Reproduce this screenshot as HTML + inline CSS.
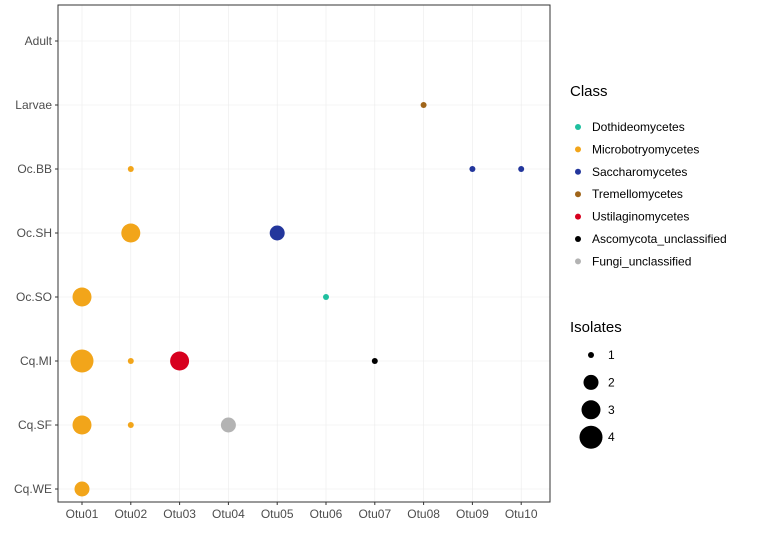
<!DOCTYPE html>
<html><head><meta charset="utf-8"><style>
body{margin:0;background:#fff;font-family:"Liberation Sans",sans-serif}
</style></head><body>
<svg width="763" height="549" xmlns="http://www.w3.org/2000/svg" font-family="Liberation Sans, sans-serif">
<rect width="763" height="549" fill="#fff"/>
<g id="grid"></g>
<g id="pts"></g>
<rect x="58" y="5" width="492" height="497" fill="none" stroke="#333" stroke-width="1"/>
<g id="axes" font-size="12" fill="#4d4d4d"></g>
<g id="legend"></g>
</svg>
<script>
const xCats=["Otu01","Otu02","Otu03","Otu04","Otu05","Otu06","Otu07","Otu08","Otu09","Otu10"];
const yCats=["Adult","Larvae","Oc.BB","Oc.SH","Oc.SO","Cq.MI","Cq.SF","Cq.WE"];
const classes=["Dothideomycetes","Microbotryomycetes","Saccharomycetes","Tremellomycetes","Ustilaginomycetes","Ascomycota_unclassified","Fungi_unclassified"];
const classColors=["#1fbf9f","#f2a51a","#23369c","#a0651a","#d7001e","#000000","#b3b3b3"];
const ptX=["Otu01","Otu01","Otu01","Otu01","Otu02","Otu02","Otu02","Otu02","Otu03","Otu04","Otu05","Otu06","Otu07","Otu08","Otu09","Otu10"];
const ptY=["Oc.SO","Cq.MI","Cq.SF","Cq.WE","Oc.BB","Oc.SH","Cq.MI","Cq.SF","Cq.MI","Cq.SF","Oc.SH","Oc.SO","Cq.MI","Larvae","Oc.BB","Oc.BB"];
const ptClass=[1,1,1,1,1,1,1,1,4,6,2,0,5,3,2,2];
const ptIsolates=[3,4,3,2,1,3,1,1,3,2,2,1,1,1,1,1];
const sizeVals=[1,2,3,4];
const NS="http://www.w3.org/2000/svg";
function xs(c){return 82+xCats.indexOf(c)*48.8;}
function ys(c){return 41+yCats.indexOf(c)*64;}
function rs(v){return [0,3,7.5,9.5,11.5][v];}
function mk(t,a,p){const e=document.createElementNS(NS,t);for(const k in a)e.setAttribute(k,a[k]);p.appendChild(e);return e;}
const grid=document.getElementById('grid'),pts=document.getElementById('pts'),ax=document.getElementById('axes'),lg=document.getElementById('legend');
xCats.forEach(c=>{const l=mk('line',{x1:xs(c),x2:xs(c),y1:5,y2:502,stroke:'#ebebeb','stroke-width':0.6},grid);

mk('line',{x1:xs(c),x2:xs(c),y1:502,y2:505,stroke:'#333'},ax);
const t=mk('text',{x:xs(c),y:518,'text-anchor':'middle'},ax);t.textContent=c;
});
yCats.forEach(c=>{const l=mk('line',{x1:58,x2:550,y1:ys(c),y2:ys(c),stroke:'#ebebeb','stroke-width':0.6},grid);

mk('line',{x1:55,x2:58,y1:ys(c),y2:ys(c),stroke:'#333'},ax);
const t=mk('text',{x:52,y:ys(c)+4,'text-anchor':'end'},ax);t.textContent=c;
});
ptX.forEach((x,i)=>{const c=mk('circle',{cx:xs(x),cy:ys(ptY[i]),r:rs(ptIsolates[i]),fill:classColors[ptClass[i]]},pts);

});
let t=mk('text',{x:570,y:96,'font-size':15,fill:'#000'},lg);t.textContent='Class';

classes.forEach((c,i)=>{const y=127+i*22.4;
const d=mk('circle',{cx:578,cy:y,r:3,fill:classColors[i]},lg);

const tt=mk('text',{x:592,y:y+4,'font-size':12,fill:'#000'},lg);tt.textContent=c;
});
t=mk('text',{x:570,y:332,'font-size':15,fill:'#000'},lg);t.textContent='Isolates';

sizeVals.forEach((v,i)=>{const y=355+i*27.4;
const d=mk('circle',{cx:591,cy:y,r:rs(v),fill:'#000'},lg);

const tt=mk('text',{x:608,y:y+4,'font-size':12,fill:'#000'},lg);tt.textContent=v;
});
</script>
</body></html>
